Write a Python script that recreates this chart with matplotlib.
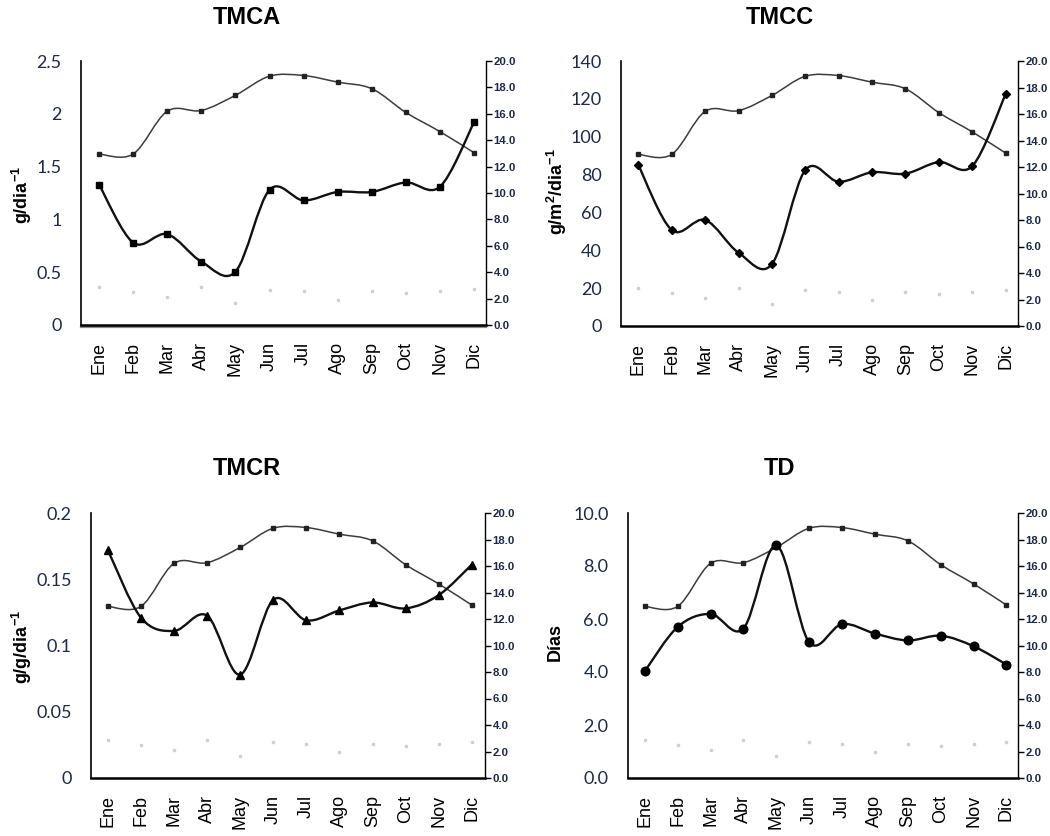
import numpy as np
import matplotlib
matplotlib.use("Agg")
import matplotlib.pyplot as plt
from matplotlib.path import Path
from matplotlib.patches import PathPatch

# Months and values
months = ["Ene", "Feb", "Mar", "Abr", "May", "Jun", "Jul", "Ago", "Sep", "Oct", "Nov", "Dic"]

tmca = [1.33, 0.78, 0.86, 0.60, 0.505, 1.28, 1.18, 1.26, 1.26, 1.35, 1.31, 1.92]
tmcc = [85.0, 50.7, 56.0, 38.7, 32.7, 82.4, 76.2, 81.2, 80.5, 86.6, 84.5, 122.5]
tmcr = [0.172, 0.121, 0.111, 0.1225, 0.078, 0.1345, 0.119, 0.1265, 0.1325, 0.128, 0.138, 0.161]
td = [4.03, 5.70, 6.19, 5.64, 8.78, 5.12, 5.81, 5.45, 5.19, 5.37, 4.97, 4.28]

# right axis series (temperature) and the faint bottom points
temp = [12.95, 12.95, 16.2, 16.25, 17.4, 18.85, 18.9, 18.4, 17.9, 16.1, 14.65, 13.05]
faint = [2.9, 2.5, 2.15, 2.85, 1.65, 2.68, 2.6, 1.93, 2.6, 2.4, 2.55, 2.7]

TXT = "#1c2a48"
W, H = 1050, 836

fig = plt.figure(figsize=(10.5, 8.36), dpi=100)


def box(l, t, r, b):
    return [l / W, 1 - b / H, (r - l) / W, (b - t) / H]


def smooth_line(ax, x, y, transform, lw, color):
    # excel-like smoothed line: cubic bezier between the points
    n = len(x)
    verts = [(x[0], y[0])]
    codes = [Path.MOVETO]
    for i in range(n - 1):
        p0 = max(i - 1, 0)
        p3 = min(i + 2, n - 1)
        c1 = (x[i] + (x[i + 1] - x[p0]) / 6, y[i] + (y[i + 1] - y[p0]) / 6)
        c2 = (x[i + 1] - (x[p3] - x[i]) / 6, y[i + 1] - (y[p3] - y[i]) / 6)
        verts += [c1, c2, (x[i + 1], y[i + 1])]
        codes += [Path.CURVE4] * 3
    ax.add_patch(PathPatch(Path(verts, codes), fill=False, lw=lw, edgecolor=color,
                           transform=transform, zorder=3))


def panel(rect, xlim, data, ylim, yticks, ylabels, marker, ms, title, title_xy, ylab, ylab_xy, double_base=False):
    ax = fig.add_axes(box(*rect))
    x = np.arange(len(months))
    ax.set_xlim(*xlim)
    ax.set_ylim(*ylim)
    ax.set_yticks(yticks)
    ax.set_yticklabels(ylabels, fontfamily="Lato", fontsize=13, color=TXT)
    ax.tick_params(axis="y", length=0, pad=14)
    ax.set_xticks(x)
    ax.set_xticklabels(months, rotation=90, fontfamily="Liberation Sans", fontsize=13)
    ax.tick_params(axis="x", length=0, pad=12)
    for s in ["top", "right"]:
        ax.spines[s].set_visible(False)
    ax.spines["left"].set_linewidth(1.2)
    ax.spines["bottom"].set_linewidth(1.8)
    if double_base:
        ax.plot([0, 1], [-0.009, -0.009], transform=ax.transAxes, color="#8a8a8a",
                lw=1.6, clip_on=False)

    ax2 = ax.twinx()
    ax2.set_xlim(*xlim)
    ax2.set_ylim(0, 20)
    rt = np.arange(0, 21, 2)
    ax2.set_yticks(rt)
    ax2.set_yticklabels([f"{v:.1f}" for v in rt],
                        fontfamily=["Liberation Sans Narrow", "Liberation Sans"],
                        fontweight="bold", fontsize=8.2, color=TXT)
    ax2.tick_params(axis="y", direction="out", length=4, width=1, pad=1.5)
    for s in ["top", "left", "bottom"]:
        ax2.spines[s].set_visible(False)
    ax2.spines["right"].set_linewidth(1.0)

    # faint points near the bottom
    ax2.plot(x, faint, ls="none", marker="s", ms=1.6, color="#d0d0d0", zorder=2)
    # temperature curve
    smooth_line(ax2, x, temp, ax2.transData, 1.1, "#3c3c3c")
    ax2.plot(x, temp, ls="none", marker="s", ms=3, color="#222222", zorder=4)
    # main series
    smooth_line(ax2, x, data, ax.transData, 1.7, "#111111")
    ax2.plot(x, data, ls="none", marker=marker, ms=ms, color="#000000",
             transform=ax.transData, zorder=5)

    fig.text(title_xy[0] / W, 1 - title_xy[1] / H, title, ha="center", va="center",
             fontfamily="Liberation Sans", fontweight="bold", fontsize=17)
    fig.text(ylab_xy[0] / W, 1 - ylab_xy[1] / H, ylab, rotation=90, ha="center", va="center",
             fontfamily="Liberation Sans", fontweight="bold", fontsize=13)
    return ax


plt.rcParams["mathtext.fontset"] = "custom"
plt.rcParams["mathtext.rm"] = "Liberation Sans:bold"
plt.rcParams["mathtext.bf"] = "Liberation Sans:bold"

panel((81, 61, 486, 325), (-0.53, 11.35), tmca, (0, 2.5),
      [0, 0.5, 1, 1.5, 2, 2.5], ["0", "0.5", "1", "1.5", "2", "2.5"],
      "s", 4.8, "TMCA", (247, 17), r"g/dia$^{\mathbf{-1}}$", (22, 195), double_base=True)

panel((621, 61, 1018, 326), (-0.52, 11.37), tmcc, (0, 140),
      list(range(0, 141, 20)), [str(v) for v in range(0, 141, 20)],
      "D", 4.2, "TMCC", (780, 17), r"g/m$^{\mathbf{2}}$/dia$^{\mathbf{-1}}$", (557, 192))

panel((91, 513, 485, 778), (-0.51, 11.4), tmcr, (0, 0.2),
      [0, 0.05, 0.1, 0.15, 0.2], ["0", "0.05", "0.1", "0.15", "0.2"],
      "^", 6, "TMCR", (247, 469), r"g/g/dia$^{\mathbf{-1}}$", (22, 647))

panel((628, 513, 1018, 778), (-0.51, 11.35), td, (0, 10),
      [0, 2, 4, 6, 8, 10], [f"{v:.1f}" for v in range(0, 11, 2)],
      "o", 6.2, "TD", (780, 469), "Días", (555, 642))

fig.savefig("out.png", dpi=100)
